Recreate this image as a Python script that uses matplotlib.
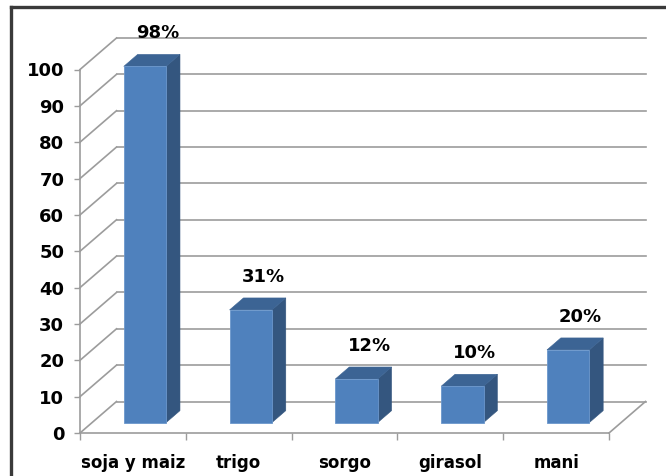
import matplotlib
matplotlib.use("Agg")
import matplotlib.pyplot as plt
from matplotlib.patches import Polygon
from matplotlib.lines import Line2D

# --- data -------------------------------------------------------------
categories = ["soja y maiz", "trigo", "sorgo", "girasol", "mani"]
values = [98, 31, 12, 10, 20]
y_ticks = list(range(0, 101, 10))

# --- figure / axes ----------------------------------------------------
W, H = 666, 476
fig = plt.figure(figsize=(W / 100, H / 100), dpi=100)
fig.patch.set_facecolor("white")

ax_left, ax_right = 80, 609       # front x-axis extent (px)
ax_zero, ax_top = 433, 69.5       # front y positions of 0 and 100 (px)
ax = fig.add_axes([ax_left / W, (H - ax_zero) / H,
                   (ax_right - ax_left) / W, (ax_zero - ax_top) / H])
n = len(categories)
ax.set_xlim(0, n)
ax.set_ylim(0, 100)
ax.patch.set_visible(False)

# oblique depth projection: full depth shifts right / up by these pixels
DEPTH_DX, DEPTH_DY = 36.5, 31.5
px_per_x = (ax_right - ax_left) / n
px_per_y = (ax_zero - ax_top) / 100.0


def P(x, v, d):
    """Project a point (category x, value v, depth fraction d) to data coords."""
    return (x + d * DEPTH_DX / px_per_x, v + d * DEPTH_DY / px_per_y)


grid_c = "#9C9C9C"
grid_lw = 1.2

# back wall gridlines and left wall diagonals
for v in y_ticks:
    (bx0, by0), (bx1, by1) = P(0, v, 1), P(n, v, 1)
    ax.add_line(Line2D([bx0, bx1], [by0, by1], color=grid_c, lw=grid_lw,
                       clip_on=False, zorder=1))
    fx, fy = P(0, v, 0)
    ax.add_line(Line2D([fx, bx0], [fy, by0], color=grid_c, lw=grid_lw,
                       clip_on=False, zorder=1))

# floor right edge
(rx0, ry0), (rx1, ry1) = P(n, 0, 0), P(n, 0, 1)
ax.add_line(Line2D([rx0, rx1], [ry0, ry1], color=grid_c, lw=grid_lw,
                   clip_on=False, zorder=1))

# --- 3D bars ----------------------------------------------------------
front_c, side_c, top_c = "#4F81BD", "#34567F", "#3C6494"
half_w = 0.2
d_front, d_back = 0.33, 0.71
for i, v in enumerate(values):
    xc = i + 0.5
    xl, xr = xc - half_w, xc + half_w
    side = [P(xr, 0, d_front), P(xr, 0, d_back), P(xr, v, d_back), P(xr, v, d_front)]
    top = [P(xl, v, d_front), P(xr, v, d_front), P(xr, v, d_back), P(xl, v, d_back)]
    front = [P(xl, 0, d_front), P(xr, 0, d_front), P(xr, v, d_front), P(xl, v, d_front)]
    ax.add_patch(Polygon(side, closed=True, facecolor=side_c, edgecolor=side_c,
                         lw=0.4, clip_on=False, zorder=3))
    ax.add_patch(Polygon(top, closed=True, facecolor=top_c, edgecolor=top_c,
                         lw=0.4, clip_on=False, zorder=3))
    ax.add_patch(Polygon(front, closed=True, facecolor=front_c, edgecolor="#6B97CC",
                         lw=0.6, clip_on=False, zorder=4))
    ax.annotate(f"{v}%", xy=P(xc, v, d_front), xytext=(12.5, 33),
                textcoords="offset pixels", ha="center", va="center",
                fontsize=13, fontweight="bold", family="DejaVu Sans",
                color="black", zorder=5, annotation_clip=False)

# --- axes, ticks, labels ----------------------------------------------
for s in ("top", "right"):
    ax.spines[s].set_visible(False)
for s in ("left", "bottom"):
    ax.spines[s].set_color(grid_c)
    ax.spines[s].set_linewidth(grid_lw)
    ax.spines[s].set_zorder(2)

ax.set_yticks(y_ticks)
ax.set_yticklabels([str(t) for t in y_ticks])
ax.tick_params(axis="y", direction="out", length=4.3, width=1.0,
               color=grid_c, pad=7)
for lab in ax.get_yticklabels():
    lab.set_fontsize(13)
    lab.set_fontweight("bold")
    lab.set_family("DejaVu Sans")

ax.set_xticks(range(n + 1))
ax.set_xticklabels([])
ax.set_xticks([i + 0.5 for i in range(n)], minor=True)
ax.set_xticklabels(categories, minor=True)
ax.tick_params(axis="x", which="major", direction="out", length=5,
               width=1.0, color=grid_c)
ax.tick_params(axis="x", which="minor", length=0, pad=15)
for lab in ax.get_xticklabels(minor=True):
    lab.set_fontsize(12)
    lab.set_fontweight("bold")
    lab.set_family("DejaVu Sans")

# dark frame around the chart area (left and top edges visible)
bx, by = 11 / W, (H - 6.5) / H
fig.add_artist(Line2D([bx, bx], [0, by], transform=fig.transFigure,
                      color="#3A3A3A", lw=2.4, solid_capstyle="projecting"))
fig.add_artist(Line2D([bx, 1.0], [by, by], transform=fig.transFigure,
                      color="#3A3A3A", lw=2.4, solid_capstyle="projecting"))

fig.savefig("out.png", dpi=100, facecolor="white")
